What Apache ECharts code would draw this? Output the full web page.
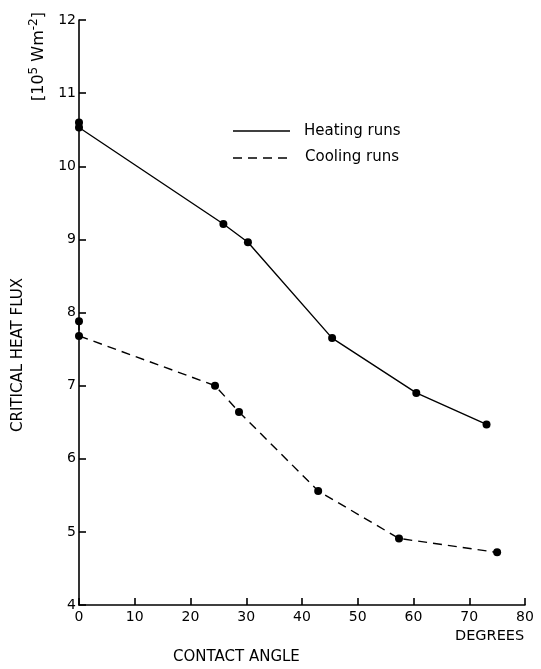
<!DOCTYPE html>
<html><head><meta charset="utf-8">
<script src="https://cdn.jsdelivr.net/npm/echarts@6/dist/echarts.min.js"></script>
<style>html,body{margin:0;padding:0;background:#fff}#c{width:541px;height:669px}</style>
</head><body><div id="c"></div>
<script>
const xTicks = [0,10,20,30,40,50,60,70,80];
const yTicks = [4,5,6,7,8,9,10,11,12];
const heatingX = [0, 0, 25.9, 30.3, 45.4, 60.5, 73.1];
const heatingY = [10.6, 10.53, 9.21, 8.96, 7.65, 6.90, 6.47];
const coolingX = [0, 0, 24.4, 28.7, 42.9, 57.4, 75.0];
const coolingY = [7.88, 7.68, 7.0, 6.64, 5.56, 4.91, 4.72];
const names = ['Heating runs', 'Cooling runs'];

const pairs = (xs, ys) => xs.map((x, i) => [x, ys[i]]);
const font = 'DejaVu Sans';
const chart = echarts.init(document.getElementById('c'));
chart.setOption({
  animation: false,
  grid: {left: 79, right: 16, top: 20, bottom: 64},
  xAxis: {
    type: 'value', min: 0, max: 80, interval: 10,
    axisLine: {lineStyle: {color: '#000', width: 1.6}},
    axisTick: {inside: true, length: 7, lineStyle: {color: '#000', width: 1.6}},
    axisLabel: {color: '#000', fontFamily: font, fontSize: 14, margin: 5},
    splitLine: {show: false}
  },
  yAxis: {
    type: 'value', min: 4, max: 12, interval: 1,
    axisLine: {show: true, lineStyle: {color: '#000', width: 1.6}},
    axisTick: {show: true, inside: true, length: 7, lineStyle: {color: '#000', width: 1.6}},
    axisLabel: {color: '#000', fontFamily: font, fontSize: 14, margin: 3},
    splitLine: {show: false}
  },
  series: [
    {name: names[0], type: 'line', data: pairs(heatingX, heatingY),
     symbol: 'circle', symbolSize: 8, itemStyle: {color: '#000'},
     lineStyle: {color: '#000', width: 1.4}},
    {name: names[1], type: 'line', data: pairs(coolingX, coolingY),
     symbol: 'circle', symbolSize: 8, itemStyle: {color: '#000'},
     lineStyle: {color: '#000', width: 1.4, type: [9, 6]}}
  ],
  graphic: [
    {type: 'line', shape: {x1: 233, y1: 131, x2: 290, y2: 131}, style: {stroke: '#000', lineWidth: 1.4}},
    {type: 'text', x: 304, y: 124, style: {text: names[0], fill: '#000', font: '15px "DejaVu Sans"'}},
    {type: 'line', shape: {x1: 233, y1: 158, x2: 290, y2: 158}, style: {stroke: '#000', lineWidth: 1.4, lineDash: [9, 6]}},
    {type: 'text', x: 305, y: 150, style: {text: names[1], fill: '#000', font: '15px "DejaVu Sans"'}},
    {type: 'text', x: 455, y: 629, style: {text: 'DEGREES', fill: '#000', font: '14.5px "DejaVu Sans"'}},
    {type: 'text', x: 173, y: 650, style: {text: 'CONTACT ANGLE', fill: '#000', font: '15px "DejaVu Sans"'}},
    {type: 'text', x: 11, y: 432, rotation: Math.PI / 2,
     style: {text: 'CRITICAL HEAT FLUX', fill: '#000', font: '15px "DejaVu Sans"'}},
    {type: 'text', x: 28, y: 101, rotation: Math.PI / 2,
     style: {text: '[10{s|5} Wm{s|-2}]', fill: '#000', font: '16px "DejaVu Sans"',
       rich: {s: {fontSize: 12, verticalAlign: 'top', padding: [0, 0, 9, 0], fontFamily: font}}}}
  ]
});
</script></body></html>
